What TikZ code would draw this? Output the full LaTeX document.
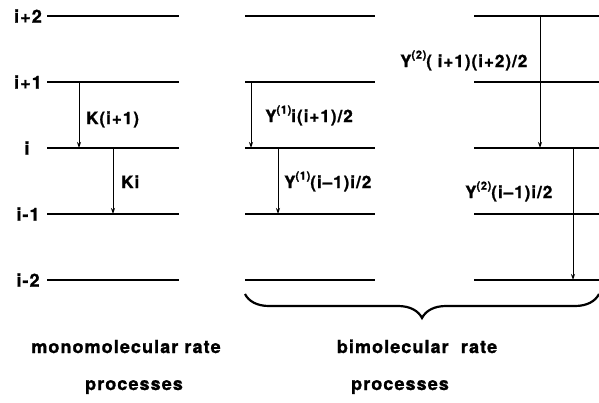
\documentclass[tikz,border=0pt]{standalone}
\usepackage{fontspec}
\setmainfont{TeX Gyre Heros}
\newfontfamily\labfont[LetterSpace=6,BoldFeatures={FakeBold=1.3}]{TeX Gyre Heros}
\usetikzlibrary{arrows.meta,decorations.pathreplacing}
\newcommand{\Ysup}[1]{Y\raisebox{0.5em}{\fontsize{11}{11}\selectfont(#1)}}
\begin{document}
\begin{tikzpicture}[x=1pt,y=-1pt,
  level/.style={line width=1.8pt},
  trans/.style={line width=0.9pt,-{Stealth[length=6pt,width=4pt]}},
  lvlabel/.style={font=\labfont\bfseries\fontsize{18}{20}\selectfont,inner sep=0pt},
  lab/.style={font=\labfont\bfseries\fontsize{17}{20}\selectfont,inner sep=0pt,anchor=base west},
  captxt/.style={font=\labfont\bfseries\fontsize{18}{22}\selectfont,inner sep=0pt,anchor=base}]
\useasboundingbox (0,0) rectangle (599,402);

% level lines
\foreach \n/\y in {p2/16,p1/82,z/148,m1/214,m2/280}{
  \coordinate (L-\n-a) at (47,\y);  \coordinate (L-\n-b) at (179,\y);
  \coordinate (M-\n-a) at (245,\y); \coordinate (M-\n-b) at (375,\y);
  \coordinate (R-\n-a) at (474,\y); \coordinate (R-\n-b) at (599,\y);
  \draw[level] (L-\n-a) -- (L-\n-b);
  \draw[level] (M-\n-a) -- (M-\n-b);
  \draw[level] (R-\n-a) -- (R-\n-b);
}

% level labels
\node[lvlabel] (lp2) at (28,16) {i+2};
\node[lvlabel] (lp1) at (28,82) {i+1};
\node[lvlabel] (lz)  at (27,148) {i};
\node[lvlabel] (lm1) at (28,214) {i-1};
\node[lvlabel] (lm2) at (28,280) {i-2};

% monomolecular arrows
\coordinate (a1s) at (79,82);  \coordinate (a1e) at (79,148);
\coordinate (a2s) at (113,148); \coordinate (a2e) at (113,214);
\draw[trans] (a1s) -- (a1e);
\draw[trans] (a2s) -- (a2e);
\node[lab] (k1) at (86,124) {K(i+1)};
\node[lab] (k2) at (121,188) {Ki};

% bimolecular arrows, middle
\coordinate (b1s) at (251,82);  \coordinate (b1e) at (251,148);
\coordinate (b2s) at (278,148); \coordinate (b2e) at (278,214);
\draw[trans] (b1s) -- (b1e);
\draw[trans] (b2s) -- (b2e);
\node[lab] (y1) at (265,122) {\Ysup{1}i(i+1)/2};
\node[lab] (y2) at (284,188) {\Ysup{1}(i–1)i/2};

% bimolecular arrows, right
\coordinate (c1s) at (540,16);  \coordinate (c1e) at (540,148);
\coordinate (c2s) at (573,148); \coordinate (c2e) at (573,280);
\draw[trans] (c1s) -- (c1e);
\draw[trans] (c2s) -- (c2e);
\node[lab] (y3) at (400,67) {\Ysup{2}( i+1)(i+2)/2};
\node[lab] (y4) at (465,198) {\Ysup{2}(i–1)i/2};

% brace
\coordinate (brl) at (245,294);
\coordinate (brr) at (599,294);
\draw[line width=2.2pt,decorate,decoration={brace,mirror,amplitude=24pt}] (brl) -- (brr);

% captions
\node[captxt] (c1a) at (126,353) {monomolecular rate};
\node[captxt] (c1b) at (134,390) {processes};
\node[captxt] (c2a) at (417,353) {bimolecular\ \ rate};
\node[captxt] (c2b) at (400,390) {processes};
\end{tikzpicture}
\end{document}
